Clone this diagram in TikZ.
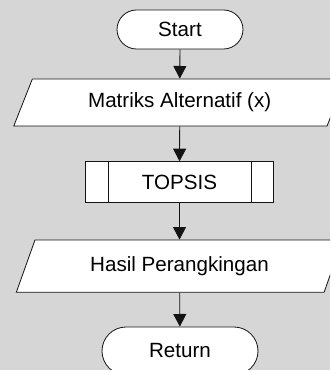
\documentclass[tikz,border=0pt]{standalone}
\usepackage{fontspec}
\setmainfont{Liberation Sans}
\usepackage{xcolor}
\usetikzlibrary{arrows.meta}
\usetikzlibrary{shapes.geometric}
\usetikzlibrary{calc}
\definecolor{bggray}{RGB}{214,214,214}
\definecolor{linegray}{RGB}{20,20,20}

\begin{document}
\begin{tikzpicture}[x=1pt,y=1pt,
  every node/.style={font=\fontsize{20.6}{24}\selectfont, inner sep=0pt},
  terminal/.style={draw=linegray, fill=white, line width=0.8pt, rounded corners=#1},
  io/.style={trapezium, trapezium left angle=59, trapezium right angle=121,
    trapezium stretches=true, draw=linegray, fill=white, line width=0.8pt},
  procbox/.style={draw=linegray, fill=white, line width=0.8pt,
    minimum width=187.6pt, minimum height=40.6pt},
  flow/.style={draw=linegray, line width=0.8pt, -{Triangle[length=12.6pt,width=13pt]}}
]
\path[use as bounding box, clip] (0,0) rectangle (330,370);
\fill[bggray] (0,0) rectangle (330,370);

% shapes
\node[terminal=19.5pt, minimum width=126pt, minimum height=39pt] (start) at (180,340.5) {Start};
\node[io, minimum width=332.7pt, minimum height=47pt] (matriks) at (179.7,267.5) {Matriks Alternatif (x)};
\node[procbox] (topsis) at (179.5,188) {TOPSIS};
\draw[linegray, line width=0.8pt] ($(topsis.north west)+(22.6,0)$) -- ($(topsis.south west)+(22.6,0)$);
\draw[linegray, line width=0.8pt] ($(topsis.north east)+(-22.4,0)$) -- ($(topsis.south east)+(-22.4,0)$);
\node[io, minimum width=327.3pt, minimum height=52.3pt] (hasil) at (179.5,103.8) {Hasil Perangkingan};
\node[terminal=24pt, minimum width=156pt, minimum height=48pt] (return) at (180,19) {Return};

% arrows
\draw[flow] (start) -- (matriks);
\draw[flow] (matriks) -- (topsis);
\draw[flow] (topsis) -- (hasil);
\draw[flow] (hasil) -- (return);
\end{tikzpicture}
\end{document}
